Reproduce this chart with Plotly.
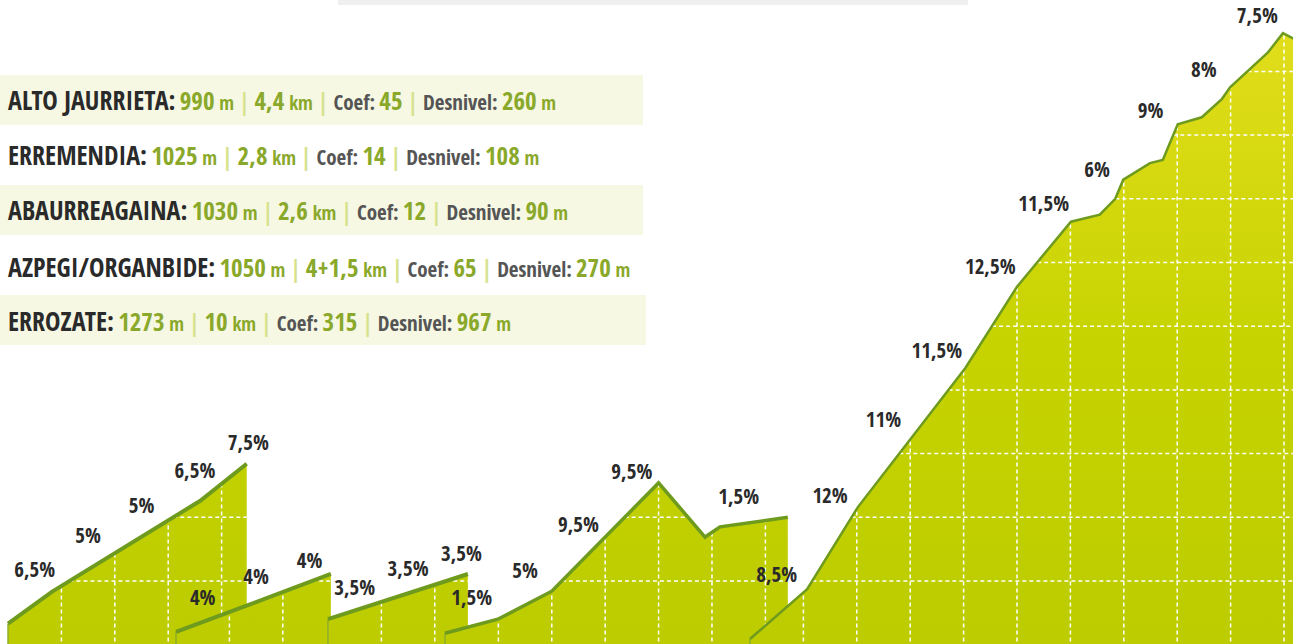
import numpy as np
import plotly.graph_objects as go

# ---- data ----
# profile start position on the shared km axis
starts = [0.15, 3.296, 6.142, 8.333, 14.045]

p1_km = [0, 0.82, 3.60, 4.47]
p1_alt = [333, 383, 526, 584]
p2_km = [0, 2.90]
p2_alt = [320, 411]
p3_km = [0, 2.62]
p3_alt = [340, 411]
p4_km = [0, 0.99, 2.0, 4.0, 4.87, 5.15, 6.42]
p4_alt = [318, 340, 384, 554, 469, 485, 500]
p5_km = [0, 1.07, 2.02, 4.03, 5.0, 6.01, 6.55, 6.84, 6.99, 7.49, 7.73, 8.01, 8.46, 8.84, 8.99, 9.70, 9.98, 10.3]
p5_alt = [309, 387, 516, 734, 862, 964, 975, 1000, 1030, 1056, 1061, 1117, 1128, 1157, 1175, 1230, 1260, 1246]

p1_lbl = ["6,5%", "5%", "5%", "6,5%", "7,5%"]
p1_lbl_km = [0.5, 1.5, 2.5, 3.5, 4.5]
p1_lbl_alt = [414, 468, 515, 570, 614]
p2_lbl = ["4%", "4%", "4%"]
p2_lbl_km = [0.5, 1.5, 2.5]
p2_lbl_alt = [370, 403, 428]
p3_lbl = ["3,5%", "3,5%", "3,5%"]
p3_lbl_km = [0.5, 1.5, 2.5]
p3_lbl_alt = [387, 416, 439]
p4_lbl = ["1,5%", "5%", "9,5%", "9,5%", "1,5%"]
p4_lbl_km = [0.5, 1.5, 2.5, 3.5, 5.5]
p4_lbl_alt = [370, 413, 485, 568, 529]
p5_lbl = ["8,5%", "12%", "11%", "11,5%", "12,5%", "11,5%", "6%", "9%", "8%", "7,5%"]
p5_lbl_km = [0.5, 1.5, 2.5, 3.5, 4.5, 5.5, 6.5, 7.5, 8.5, 9.5]
p5_lbl_alt = [406, 530, 650, 758, 890, 989, 1042, 1135, 1199, 1284]

names = ["ALTO JAURRIETA", "ERREMENDIA", "ABAURREAGAINA", "AZPEGI/ORGANBIDE", "ERROZATE"]
heights = ["990", "1025", "1030", "1050", "1273"]
lengths = ["4,4", "2,8", "2,6", "4+1,5", "10"]
coefs = ["45", "14", "12", "65", "315"]
desnivel = ["260", "108", "90", "270", "967"]

profiles = [
    (p1_km, p1_alt, p1_lbl, p1_lbl_km, p1_lbl_alt, 4),
    (p2_km, p2_alt, p2_lbl, p2_lbl_km, p2_lbl_alt, 4),
    (p3_km, p3_alt, p3_lbl, p3_lbl_km, p3_lbl_alt, 4),
    (p4_km, p4_alt, p4_lbl, p4_lbl_km, p4_lbl_alt, 3.5),
    (p5_km, p5_alt, p5_lbl, p5_lbl_km, p5_lbl_alt, 2.5),
]

W, H = 1293, 644
XR = [0, W / 53.4]
YR = [301.1, 1312.1]
BOTTOM = 250
LINE = "#6e9a1e"
FONT = "Open Sans Condensed, Roboto Condensed, sans-serif"
DARK = "#2a2a2a"
GREEN = "#8aa82a"
GREY = "#555555"
SEP = "#d6e28e"

fig = go.Figure()

for i, (km, alt, lbl, lkm, lalt, lw) in enumerate(profiles):
    x = [starts[i] + k for k in km]
    # filled area
    fig.add_trace(go.Scatter(
        x=x, y=alt, mode="lines", line=dict(width=0), fill="tozeroy",
        fillgradient=dict(type="vertical", start=YR[0], stop=YR[1],
                          colorscale=[[0, "#bccc00"], [0.45, "#c6d300"], [1, "#e4de1e"]]),
        hoverinfo="skip", showlegend=False))
    # dashed grid clipped to the area
    gx, gy = [], []
    for k in range(1, int(np.floor(km[-1])) + 1):
        gx += [starts[i] + k, starts[i] + k, None]
        gy += [BOTTOM, float(np.interp(k, km, alt)), None]
    xs = np.linspace(km[0], km[-1], 3000)
    ys = np.interp(xs, km, alt)
    for lev in range(400, 1400, 100):
        mask = ys > lev
        if not mask.any():
            continue
        idx = np.where(np.diff(np.concatenate([[0], mask.astype(int), [0]])))[0]
        for a, b in zip(idx[::2], idx[1::2]):
            gx += [starts[i] + xs[a], starts[i] + xs[b - 1], None]
            gy += [lev, lev, None]
    fig.add_trace(go.Scatter(
        x=gx, y=gy, mode="lines", line=dict(color="white", width=1.5, dash="4px,3px"),
        hoverinfo="skip", showlegend=False))
    # left edge + profile line
    fig.add_trace(go.Scatter(
        x=[x[0], x[0]], y=[BOTTOM, alt[0]], mode="lines",
        line=dict(color="#8eae2a", width=1.5), hoverinfo="skip", showlegend=False))
    fig.add_trace(go.Scatter(
        x=x, y=alt, mode="lines", line=dict(color=LINE, width=lw),
        hoverinfo="skip", showlegend=False))
    # gradient labels
    fig.add_trace(go.Scatter(
        x=[starts[i] + k for k in lkm], y=lalt, mode="text", text=lbl,
        textfont=dict(family=FONT, size=21, color=DARK, weight="bold"),
        hoverinfo="skip", showlegend=False))

# data table rows
row_y = [100, 155, 210, 267, 321]
big, small = 25, 19
sp = "<span style='font-size:17px'> </span>"
for j in range(len(names)):
    bar = f"{sp}<span style='color:{SEP};font-size:24px'>|</span>{sp}"
    txt = (f"<span style='color:{DARK};font-size:26px'><b>{names[j]}:</b></span>{sp}"
           f"<span style='color:{GREEN};font-size:{big}px'><b>{heights[j]}</b></span>"
           f"<span style='color:{GREEN};font-size:{small}px'><b> m</b></span>{bar}"
           f"<span style='color:{GREEN};font-size:{big}px'><b>{lengths[j]}</b></span>"
           f"<span style='color:{GREEN};font-size:{small}px'><b> km</b></span>{bar}"
           f"<span style='color:{GREY};font-size:21px'><b>Coef:</b></span>{sp}"
           f"<span style='color:{GREEN};font-size:{big}px'><b>{coefs[j]}</b></span>{bar}"
           f"<span style='color:{GREY};font-size:21px'><b>Desnivel:</b></span>{sp}"
           f"<span style='color:{GREEN};font-size:{big}px'><b>{desnivel[j]}</b></span>"
           f"<span style='color:{GREEN};font-size:{small}px'><b> m</b></span>")
    fig.add_annotation(x=6 / W, y=1 - row_y[j] / H, xref="paper", yref="paper",
                       xanchor="left", yanchor="middle", showarrow=False, text=txt,
                       font=dict(family=FONT, size=25, color=DARK))

for y0, y1, x1 in [(75, 125, 643), (185, 235, 643), (295, 345, 646)]:
    fig.add_shape(type="rect", xref="paper", yref="paper", x0=0, x1=x1 / W,
                  y0=1 - y1 / H, y1=1 - y0 / H, fillcolor="#f6f8e4", line_width=0, layer="below")
fig.add_shape(type="rect", xref="paper", yref="paper", x0=338 / W, x1=968 / W,
              y0=1 - 5 / H, y1=1, fillcolor="#efefef", line_width=0, layer="below")

fig.update_xaxes(range=XR, visible=False, fixedrange=True)
fig.update_yaxes(range=YR, visible=False, fixedrange=True)
fig.update_layout(width=W, height=H, margin=dict(l=0, r=0, t=0, b=0),
                  plot_bgcolor="white", paper_bgcolor="white", showlegend=False)
fig.write_html("out.html", config={"displayModeBar": False},
               post_script="document.body.style.margin='0';")
